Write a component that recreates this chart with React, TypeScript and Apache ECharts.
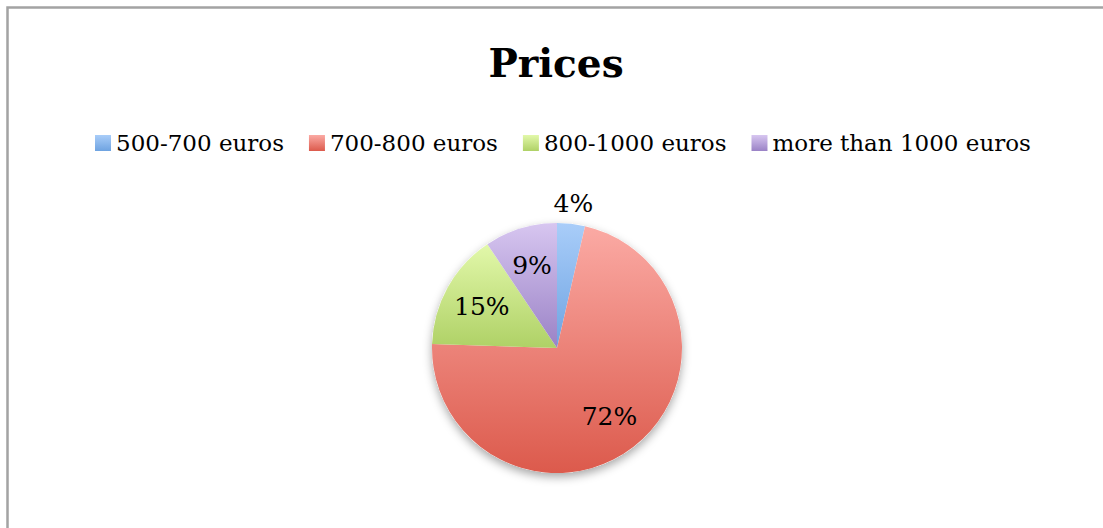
import React, { useEffect, useRef } from "react";
import * as echarts from "echarts";

const categories = ["500-700 euros", "700-800 euros", "800-1000 euros", "more than 1000 euros"];
const shares = [3.6, 71.9, 15.1, 9.4];
const topColors = ["#a9cdf9", "#fbaaa4", "#e2f8aa", "#d7c6f0"];
const bottomColors = ["#6ea3e1", "#dc5a4c", "#afd166", "#9a82c6"];
const titleText = "Prices";

const FONT = "DejaVu Serif";

function grad(i: number) {
  return new echarts.graphic.LinearGradient(0, 0, 0, 1, [
    { offset: 0, color: topColors[i] },
    { offset: 1, color: bottomColors[i] },
  ]);
}

export default function App() {
  const ref = useRef<HTMLDivElement>(null);
  useEffect(() => {
    if (!ref.current) return;
    const chart = echarts.init(ref.current, undefined, { renderer: "svg" });
    const center = [557, 348];
    const mainData = categories.map((name, i) => ({
      name,
      value: shares[i],
      itemStyle: { color: grad(i) },
    }));
    const labelStyle = {
      fontFamily: FONT,
      fontSize: 25,
      color: "#000",
    };
    chart.setOption({
      animation: false,
      backgroundColor: "#fff",
      title: {
        text: titleText,
        left: 551,
        textAlign: "center",
        top: 35,
        textStyle: {
          fontFamily: FONT,
          fontSize: 39,
          fontWeight: "bold",
          color: "#000",
          lineHeight: 46,
        },
      },
      legend: {
        data: categories,
        left: 90,
        top: 125,
        icon: "rect",
        itemWidth: 16,
        itemHeight: 16,
        itemGap: 25,
        selectedMode: false,
        textStyle: {
          fontFamily: FONT,
          fontSize: 23,
          color: "#000",
          lineHeight: 26,
          padding: [0, 0, 0, 0],
        },
      },
      graphic: [
        {
          type: "rect",
          shape: { x: 7.5, y: 7.5, width: 1200, height: 700 },
          style: { fill: "none", stroke: "#a3a3a3", lineWidth: 2.5 },
          silent: true,
        },
      ],
      series: [
        {
          type: "pie",
          name: "main",
          center,
          radius: [0, 125],
          startAngle: 90,
          clockwise: true,
          z: 3,
          silent: true,
          percentPrecision: 0,
          label: { show: false },
          labelLine: { show: false },
          itemStyle: { borderWidth: 0 },
          emphasis: { disabled: true },
          data: mainData,
        },
        {
          type: "pie",
          name: "shadow",
          center,
          radius: [0, 125],
          z: 1,
          silent: true,
          label: { show: false },
          labelLine: { show: false },
          emphasis: { disabled: true },
          itemStyle: {
            color: "#fff",
            shadowBlur: 10,
            shadowOffsetY: 4,
            shadowColor: "rgba(0,0,0,0.35)",
          },
          data: [{ name: "shadow", value: 1 }],
        },
        {
          type: "pie",
          name: "innerLabels",
          center,
          radius: [0, 166],
          startAngle: 90,
          z: 4,
          silent: true,
          percentPrecision: 0,
          emphasis: { disabled: true },
          itemStyle: { color: "rgba(0,0,0,0)", borderWidth: 0 },
          labelLine: { show: false },
          label: { show: true, position: "inside", formatter: "{d}%", ...labelStyle },
          data: categories.map((name, i) => ({
            name,
            value: shares[i],
            label: { show: i !== 0 },
          })),
        },
        {
          type: "pie",
          name: "outerLabels",
          center,
          radius: [0, 284],
          startAngle: 90,
          z: 4,
          silent: true,
          percentPrecision: 0,
          emphasis: { disabled: true },
          itemStyle: { color: "rgba(0,0,0,0)", borderWidth: 0 },
          labelLine: { show: false },
          label: { show: true, position: "inside", formatter: "{d}%", ...labelStyle },
          data: categories.map((name, i) => ({
            name,
            value: shares[i],
            label: { show: i === 0 },
          })),
        },
      ],
    });
    return () => chart.dispose();
  }, []);
  return (
    <div
      ref={ref}
      style={{ position: "absolute", left: 0, top: 0, width: 1103, height: 528 }}
    />
  );
}
